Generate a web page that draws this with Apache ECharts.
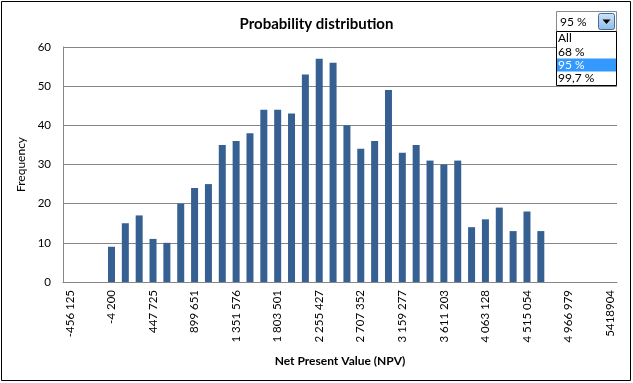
<!DOCTYPE html>
<html>
<head>
<meta charset="utf-8">
<script src="https://cdn.jsdelivr.net/npm/echarts@6/dist/echarts.min.js"></script>
<style>
html,body{margin:0;padding:0;background:#fff;}
#chart{width:633px;height:383px;}
</style>
</head>
<body>
<div id="chart"></div>
<script>
// Bin labels (category axis), one per bin
const categories = [
  "-456 125","-305 483","-154 842","-4 200","146 442","297 083","447 725","598 367","749 009","899 651",
  "1 050 293","1 200 934","1 351 576","1 502 218","1 652 860","1 803 501","1 954 143","2 104 785","2 255 427","2 406 069",
  "2 556 710","2 707 352","2 857 994","3 008 636","3 159 277","3 309 919","3 460 561","3 611 203","3 761 844","3 912 486",
  "4 063 128","4 213 770","4 364 412","4 515 054","4 665 695","4 816 337","4 966 979","5 117 621","5 268 262","5418904"
];
// Frequency per bin
const frequencies = [
  null, null, null, 9, 15, 17, 11, 10, 20, 24,
  25, 35, 36, 38, 44, 44, 43, 53, 57, 56,
  40, 34, 36, 49, 33, 35, 31, 30, 31, 14,
  16, 19, 13, 18, 13, null, null, null, null, null
];
const yTicks = { min: 0, max: 60, interval: 10 };
const dropdownItems = ["All", "68 %", "95 %", "99,7 %"];
const selectedItem = "95 %";

const FONT = "Lato, 'Liberation Sans', sans-serif";
const chart = echarts.init(document.getElementById('chart'), null, { renderer: 'canvas' });

const listGraphics = [];
dropdownItems.forEach((it, i) => {
  const y = 32 + i * 13.3;
  if (it === selectedItem) {
    listGraphics.push({ type: 'rect', shape: { x: 557, y: y, width: 59, height: 13 }, style: { fill: '#3399ff' }, z: 101 });
  }
  listGraphics.push({
    type: 'text', x: 558, y: y + 6.5, z: 102,
    style: { text: it, fill: it === selectedItem ? '#ffffff' : '#000000', font: '12px ' + FONT, verticalAlign: 'middle' }
  });
});

chart.setOption({
  animation: false,
  title: {
    text: 'Probability distribution',
    left: 'center', top: 12,
    textStyle: { fontFamily: FONT, fontSize: 15, fontWeight: 'bold', color: '#000' }
  },
  grid: { left: 63, right: 16, top: 47, bottom: 101, containLabel: false },
  xAxis: {
    type: 'category',
    data: categories,
    boundaryGap: true,
    name: 'Net Present Value (NPV)',
    nameLocation: 'middle',
    nameGap: 73,
    nameTextStyle: { fontFamily: FONT, fontSize: 12, fontWeight: 'bold', color: '#000' },
    axisLine: { lineStyle: { color: '#868686', width: 1 } },
    axisTick: { show: false },
    axisLabel: { interval: 2, rotate: 90, margin: 8, fontFamily: FONT, fontSize: 11.5, color: '#000' },
    splitLine: { show: false }
  },
  yAxis: {
    type: 'value',
    min: yTicks.min, max: yTicks.max, interval: yTicks.interval,
    name: 'Frequency',
    nameLocation: 'middle',
    nameGap: 35,
    nameTextStyle: { fontFamily: FONT, fontSize: 12, color: '#000' },
    axisLine: { show: true, lineStyle: { color: '#868686', width: 1 } },
    axisTick: { show: false },
    axisLabel: { margin: 12, fontFamily: FONT, fontSize: 11.5, color: '#000' },
    splitLine: { lineStyle: { color: '#868686', width: 1 } }
  },
  series: [{
    type: 'bar',
    data: frequencies,
    barWidth: 7,
    itemStyle: { color: '#376092' }
  }],
  graphic: [
    { type: 'rect', shape: { x: 1.5, y: 1.5, width: 629, height: 379 }, style: { fill: null, stroke: '#000', lineWidth: 1 }, z: 100, silent: true },
    // combobox
    { type: 'rect', shape: { x: 556.5, y: 11.5, width: 60, height: 20 }, style: { fill: '#fff', stroke: '#8a8a8a', lineWidth: 1 }, z: 100 },
    { type: 'text', x: 560, y: 22, z: 101, style: { text: selectedItem, fill: '#000', font: '12px ' + FONT, verticalAlign: 'middle' } },
    { type: 'rect', shape: { x: 598.5, y: 13.5, width: 16, height: 16, r: 2 }, style: { fill: new echarts.graphic.LinearGradient(0,0,0,1,[{offset:0,color:'#cfe4f7'},{offset:1,color:'#8fbbe3'}]), stroke: '#3c6e9e', lineWidth: 1 }, z: 101 },
    { type: 'polygon', shape: { points: [[602.5, 19.5], [610.5, 19.5], [606.5, 24]] }, style: { fill: '#000' }, z: 102 },
    // listbox
    { type: 'rect', shape: { x: 556.5, y: 31.5, width: 60, height: 54 }, style: { fill: '#fff', stroke: '#000', lineWidth: 1 }, z: 100 }
  ].concat(listGraphics)
});
</script>
</body>
</html>
